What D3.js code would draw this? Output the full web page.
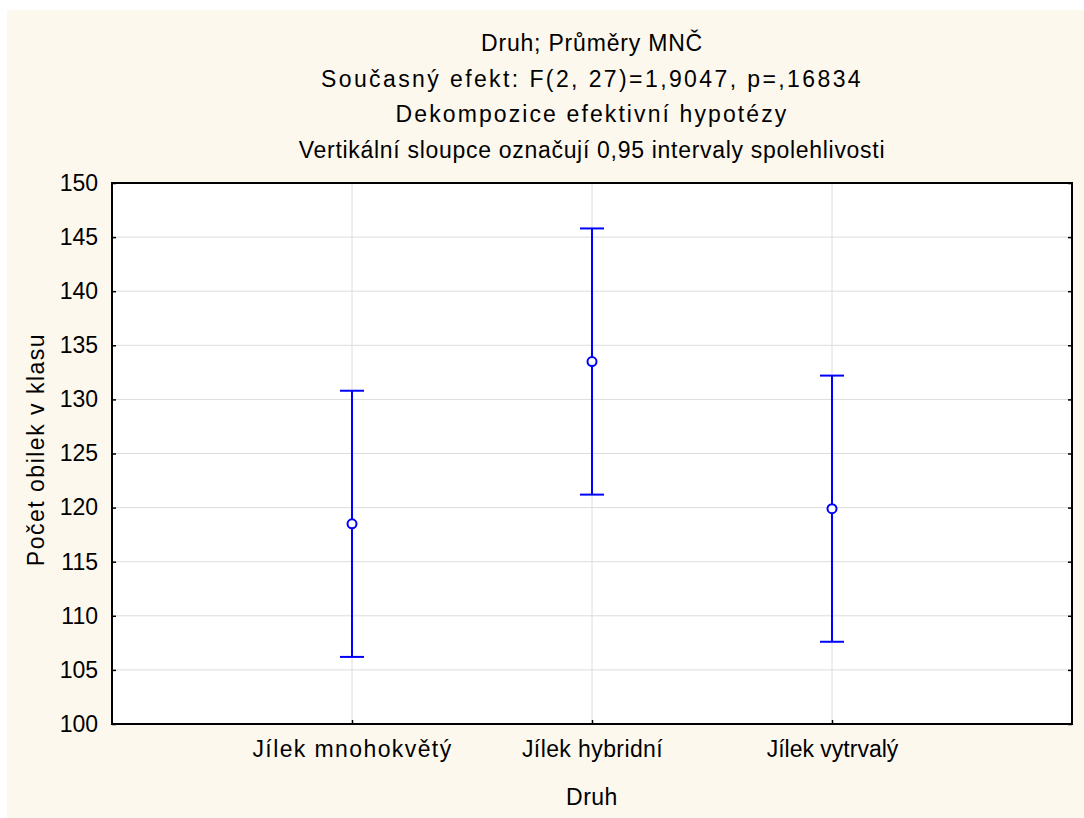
<!DOCTYPE html>
<html>
<head>
<meta charset="utf-8">
<script src="https://cdn.jsdelivr.net/npm/d3@7"></script>
<style>
  body { margin: 0; background: #fff; }
  text { font-family: "Liberation Sans", Arial, sans-serif; fill: #000; }
</style>
</head>
<body>
<div id="chart"></div>
<script>
// data
var categories = ["Jílek mnohokvětý", "Jílek hybridní", "Jílek vytrvalý"];
var means = [118.5, 133.5, 119.9];
var lower = [106.2, 121.2, 107.6];
var upper = [130.8, 145.8, 132.2];
var yTicks = [100, 105, 110, 115, 120, 125, 130, 135, 140, 145, 150];
var titleLines = [
  "Druh; Průměry MNČ",
  "Současný efekt: F(2, 27)=1,9047, p=,16834",
  "Dekompozice efektivní hypotézy",
  "Vertikální sloupce označují 0,95 intervaly spolehlivosti"
];
// the original font is drawn wide, so spread the letters a bit
var titleSpacing = [0.8, 2.4, 2.1, 0.7];
var catSpacing = [1.4, 0.4, 0];

var W = 1084, H = 818;
var margin = {top: 183, right: 12, bottom: 94, left: 112};
var width = W - margin.left - margin.right,
    height = H - margin.top - margin.bottom;
var fontSize = "23px";

var svg = d3.select("#chart").append("svg")
  .attr("width", W)
  .attr("height", H);

// cream panel behind everything
svg.append("rect")
  .attr("x", 7).attr("y", 10)
  .attr("width", W - 7).attr("height", H - 10)
  .attr("fill", "#fdf8ee");

// title block
svg.selectAll("text.title")
  .data(titleLines)
  .enter().append("text")
  .attr("class", "title")
  .attr("x", margin.left + width / 2)
  .attr("y", function(d, i) { return 51 + i * 35.5; })
  .attr("text-anchor", "middle")
  .style("font-size", fontSize)
  .style("letter-spacing", function(d, i) { return titleSpacing[i] + "px"; })
  .text(function(d) { return d; });

var g = svg.append("g")
  .attr("transform", "translate(" + margin.left + "," + margin.top + ")");

g.append("rect")
  .attr("width", width).attr("height", height)
  .attr("fill", "#fff");

var x = d3.scalePoint().domain(categories).range([0, width]).padding(1);
var y = d3.scaleLinear().domain([100, 150]).range([height, 0]);

// grid
g.selectAll("line.hgrid")
  .data(yTicks.slice(1, -1))
  .enter().append("line")
  .attr("x1", 0).attr("x2", width)
  .attr("y1", function(d) { return y(d); })
  .attr("y2", function(d) { return y(d); })
  .attr("stroke", "#dcdcdc");

g.selectAll("line.vgrid")
  .data(categories)
  .enter().append("line")
  .attr("x1", function(d) { return x(d); })
  .attr("x2", function(d) { return x(d); })
  .attr("y1", 0).attr("y2", height)
  .attr("stroke", "#dcdcdc");

// axes, ticks pointing inward
var yAxis = g.append("g")
  .call(d3.axisLeft(y).tickValues(yTicks).tickSize(-4).tickPadding(14));
var yAxisR = g.append("g")
  .attr("transform", "translate(" + width + ",0)")
  .call(d3.axisRight(y).tickValues(yTicks).tickSize(-4).tickFormat(""));
var xAxis = g.append("g")
  .attr("transform", "translate(0," + height + ")")
  .call(d3.axisBottom(x).tickSize(-4).tickPadding(17));

[yAxis, yAxisR, xAxis].forEach(function(a) {
  a.select(".domain").remove();
  a.selectAll(".tick line").attr("stroke", "#000").attr("stroke-width", 1.5);
  a.selectAll(".tick text")
    .style("font-size", fontSize)
    .style("font-family", '"Liberation Sans", Arial, sans-serif')
    .attr("fill", "#000");
});
xAxis.selectAll(".tick text")
  .style("letter-spacing", function(d, i) { return catSpacing[i] + "px"; });

// frame
g.append("rect")
  .attr("width", width).attr("height", height)
  .attr("fill", "none")
  .attr("stroke", "#000")
  .attr("stroke-width", 2);

// error bars
var cap = 12;
var bars = g.selectAll("g.bar")
  .data(categories)
  .enter().append("g")
  .attr("class", "bar");

bars.append("line")
  .attr("x1", function(d) { return x(d); })
  .attr("x2", function(d) { return x(d); })
  .attr("y1", function(d, i) { return y(lower[i]); })
  .attr("y2", function(d, i) { return y(upper[i]); })
  .attr("stroke", "#0000ff").attr("stroke-width", 2);

bars.append("line")
  .attr("x1", function(d) { return x(d) - cap; })
  .attr("x2", function(d) { return x(d) + cap; })
  .attr("y1", function(d, i) { return y(upper[i]); })
  .attr("y2", function(d, i) { return y(upper[i]); })
  .attr("stroke", "#0000ff").attr("stroke-width", 2);

bars.append("line")
  .attr("x1", function(d) { return x(d) - cap; })
  .attr("x2", function(d) { return x(d) + cap; })
  .attr("y1", function(d, i) { return y(lower[i]); })
  .attr("y2", function(d, i) { return y(lower[i]); })
  .attr("stroke", "#0000ff").attr("stroke-width", 2);

bars.append("circle")
  .attr("cx", function(d) { return x(d); })
  .attr("cy", function(d, i) { return y(means[i]); })
  .attr("r", 4.5)
  .attr("fill", "#fff")
  .attr("stroke", "#0000ff").attr("stroke-width", 2);

// axis titles
svg.append("text")
  .attr("transform", "translate(44," + (margin.top + height / 2 - 4) + ") rotate(-90)")
  .attr("text-anchor", "middle")
  .style("font-size", fontSize)
  .style("letter-spacing", "1.5px")
  .text("Počet obilek v klasu");

svg.append("text")
  .attr("x", margin.left + width / 2)
  .attr("y", 805)
  .attr("text-anchor", "middle")
  .style("font-size", fontSize)
  .style("letter-spacing", "0.5px")
  .text("Druh");
</script>
</body>
</html>
